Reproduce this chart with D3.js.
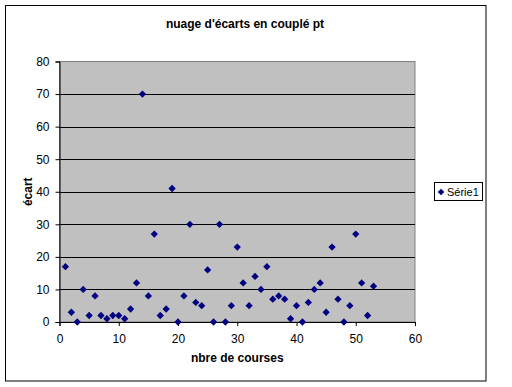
<!DOCTYPE html>
<html>
<head>
<meta charset="utf-8">
<script src="https://cdn.jsdelivr.net/npm/d3@7"></script>
<style>
  body { margin: 0; background: #fff; }
  text { font-family: Arial, "Liberation Sans", sans-serif; }
</style>
</head>
<body>
<svg id="chart" width="512" height="387"></svg>
<script>
// nbre de courses (x) and écart (y)
const courses = [1,2,3,4,5,6,7,8,9,10,11,12,13,14,15,16,17,18,19,20,21,22,23,24,25,26,27,
  28,29,30,31,32,33,34,35,36,37,38,39,40,41,42,43,44,45,46,47,48,49,50,51,52,53];
const ecarts = [17,3,0,10,2,8,2,1,2,2,1,4,12,70,8,27,2,4,41,0,8,30,6,5,16,0,30,
  0,5,23,12,5,14,10,17,7,8,7,1,5,0,6,10,12,3,23,7,0,5,27,12,2,11];
const xTicks = [0,10,20,30,40,50,60];
const yTicks = [0,10,20,30,40,50,60,70,80];
const seriesName = "Série1";
const title = "nuage d'écarts en couplé pt";

const svg = d3.select('#chart');
const plot = {left: 59.5, right: 415, top: 61.5, bottom: 322};

const x = d3.scaleLinear().domain([0, 60]).range([plot.left, plot.right]);
const y = d3.scaleLinear().domain([0, 80]).range([plot.bottom, plot.top]);

// outer chart frame
svg.append('rect')
  .attr('x', 5.5).attr('y', 5.5).attr('width', 480.5).attr('height', 375.5)
  .attr('fill', '#fff').attr('stroke', '#000').attr('stroke-width', 1);

// plot area
svg.append('rect')
  .attr('x', plot.left).attr('y', plot.top)
  .attr('width', plot.right - plot.left).attr('height', plot.bottom - plot.top)
  .attr('fill', '#c0c0c0').attr('stroke', '#808080').attr('stroke-width', 1);

// gridlines
svg.append('g').selectAll('line')
  .data(yTicks.filter(d => d > 0 && d < 80))
  .enter().append('line')
  .attr('x1', plot.left).attr('x2', plot.right)
  .attr('y1', d => Math.round(y(d)) + 0.5).attr('y2', d => Math.round(y(d)) + 0.5)
  .attr('stroke', '#000');

// axes
const xAxis = svg.append('g')
  .attr('transform', `translate(0,${plot.bottom})`)
  .call(d3.axisBottom(x).tickValues(xTicks).tickSize(4).tickPadding(8));
const yAxis = svg.append('g')
  .attr('transform', `translate(${plot.left},0)`)
  .call(d3.axisLeft(y).tickValues(yTicks).tickSize(4).tickPadding(6));

[xAxis, yAxis].forEach(a => {
  a.select('.domain').attr('stroke', '#000');
  a.selectAll('line').attr('stroke', '#000');
  a.selectAll('text').attr('font-size', 12).attr('fill', '#000')
    .attr('font-family', 'Arial, "Liberation Sans", sans-serif');
});

// points
const diamond = d3.symbol().type(d3.symbolDiamond2).size(34);
svg.append('g').selectAll('path')
  .data(courses.map((c, i) => ({c: c, e: ecarts[i]})))
  .enter().append('path')
  .attr('d', diamond)
  .attr('transform', d => `translate(${x(d.c)},${y(d.e)})`)
  .attr('fill', '#000080');

// titles
svg.append('text')
  .attr('x', 245).attr('y', 28)
  .attr('text-anchor', 'middle').attr('font-size', 12).attr('font-weight', 'bold')
  .text(title);

svg.append('text')
  .attr('x', (plot.left + plot.right) / 2).attr('y', 362)
  .attr('text-anchor', 'middle').attr('font-size', 12).attr('font-weight', 'bold')
  .text('nbre de courses');

svg.append('text')
  .attr('transform', `translate(32,${(plot.top + plot.bottom) / 2}) rotate(-90)`)
  .attr('text-anchor', 'middle').attr('font-size', 12).attr('font-weight', 'bold')
  .text('écart');

// legend
const legend = svg.append('g');
legend.append('rect')
  .attr('x', 434.5).attr('y', 182.5).attr('width', 48).attr('height', 18)
  .attr('fill', '#fff').attr('stroke', '#000');
legend.append('path')
  .attr('d', d3.symbol().type(d3.symbolDiamond2).size(28))
  .attr('transform', 'translate(441,192)')
  .attr('fill', '#000080');
legend.append('text')
  .attr('x', 447).attr('y', 196)
  .attr('font-size', 11)
  .text(seriesName);
</script>
</body>
</html>
